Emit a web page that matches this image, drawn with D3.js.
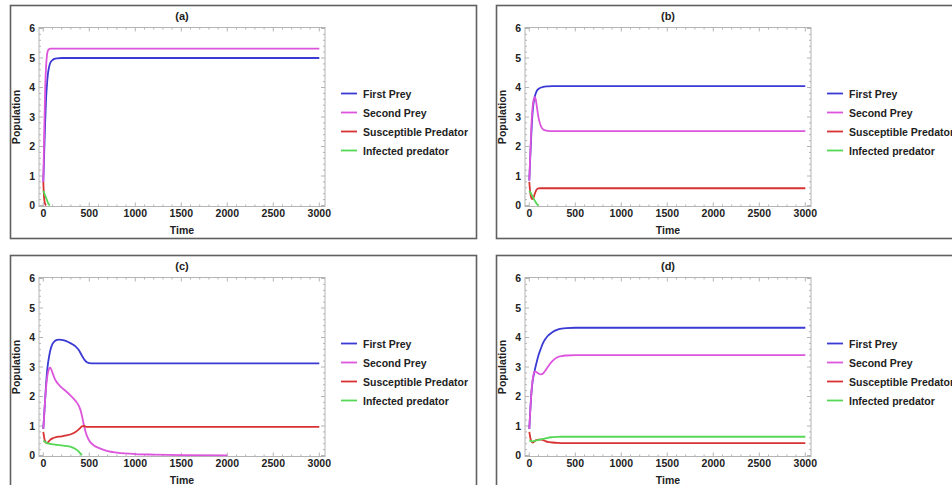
<!DOCTYPE html>
<html lang="en">
<head>
<meta charset="UTF-8">
<script src="https://d3js.org/d3.v7.min.js"></script>
<title>Population panels</title>
<style>
body { margin: 0; background: #fff; }
text { font-family: "Liberation Sans", Arial, sans-serif; font-weight: bold; fill: #222; }
.tick-label { font-size: 10.5px; }
.axis-title { font-size: 10.5px; }
.panel-title { font-size: 11px; }
.legend text { font-size: 10.5px; }
</style>
</head>
<body>
<script>

// series names and colours
var seriesNames = ["First Prey", "Second Prey", "Susceptible Predator", "Infected predator"];
var seriesColors = ["#3a3ad4", "#dc55dc", "#d83232", "#55d855"];
var panelTitles = ["(a)", "(b)", "(c)", "(d)"];
var xTicks = [0, 500, 1000, 1500, 2000, 2500, 3000];
var yTicks = [0, 1, 2, 3, 4, 5, 6];

// panel (a)
var tA      = [0, 5, 10, 20, 30, 40, 50, 60, 70, 80, 100, 120, 150, 200, 300, 500, 1000, 2000, 3000];
var aFirst  = [0.8, 1.3, 1.8, 2.8, 3.6, 4.1, 4.45, 4.65, 4.78, 4.86, 4.93, 4.97, 4.99, 5.0, 5.0, 5.0, 5.0, 5.0, 5.0];
var aSecond = [0.8, 1.6, 2.5, 3.9, 4.7, 5.1, 5.25, 5.29, 5.31, 5.32, 5.32, 5.32, 5.32, 5.32, 5.32, 5.32, 5.32, 5.32, 5.32];
var aSusc   = [0.8, 0.45, 0.22, 0.05, 0.0, null, null, null, null, null, null, null, null, null, null, null, null, null, null];
var aInf    = [0.5, 0.46, 0.42, 0.34, 0.26, 0.18, 0.1, 0.04, 0.0, null, null, null, null, null, null, null, null, null, null];

// panel (b)
var tB      = [0, 10, 20, 30, 40, 50, 60, 70, 80, 100, 120, 150, 200, 250, 300, 500, 1000, 2000, 3000];
var bFirst  = [0.85, 1.6, 2.3, 2.9, 3.3, 3.55, 3.7, 3.8, 3.88, 3.95, 3.99, 4.02, 4.04, 4.05, 4.05, 4.05, 4.05, 4.05, 4.05];
var bSecond = [0.85, 1.7, 2.5, 3.1, 3.45, 3.62, 3.67, 3.6, 3.4, 2.98, 2.74, 2.58, 2.53, 2.52, 2.52, 2.52, 2.52, 2.52, 2.52];
var bSusc   = [0.8, 0.45, 0.28, 0.22, 0.24, 0.3, 0.4, 0.48, 0.54, 0.58, 0.585, 0.585, 0.585, 0.585, 0.585, 0.585, 0.585, 0.585, 0.585];
var bInf    = [0.5, 0.45, 0.4, 0.34, 0.28, 0.22, 0.16, 0.11, 0.06, 0.0, null, null, null, null, null, null, null, null, null];

// panel (c)
var tC      = [0, 10, 20, 30, 40, 50, 60, 75, 100, 125, 150, 175, 200, 250, 300, 350, 380, 400, 420, 440, 460, 480, 500, 550, 600, 700, 800, 1000, 1200, 1500, 2000, 2500, 3000];
var cFirst  = [0.9, 1.4, 1.9, 2.4, 2.8, 3.1, 3.3, 3.55, 3.78, 3.88, 3.92, 3.93, 3.92, 3.88, 3.8, 3.7, 3.6, 3.5, 3.38, 3.28, 3.2, 3.15, 3.13, 3.12, 3.12, 3.12, 3.12, 3.12, 3.12, 3.12, 3.12, 3.12, 3.12];
var cSecond = [0.9, 1.4, 1.9, 2.3, 2.6, 2.8, 2.92, 2.98, 2.8, 2.6, 2.47, 2.38, 2.3, 2.17, 2.02, 1.85, 1.72, 1.58, 1.35, 1.05, 0.8, 0.62, 0.5, 0.34, 0.26, 0.15, 0.1, 0.05, 0.03, 0.012, 0.003, null, null];
var cSusc   = [0.8, 0.6, 0.48, 0.43, 0.42, 0.44, 0.48, 0.53, 0.58, 0.61, 0.63, 0.64, 0.65, 0.68, 0.72, 0.8, 0.87, 0.93, 0.99, 1.0, 0.98, 0.97, 0.97, 0.97, 0.97, 0.97, 0.97, 0.97, 0.97, 0.97, 0.97, 0.97, 0.97];
var cInf    = [0.5, 0.48, 0.46, 0.44, 0.42, 0.41, 0.4, 0.39, 0.38, 0.37, 0.36, 0.35, 0.34, 0.32, 0.29, 0.22, 0.15, 0.08, 0.01, null, null, null, null, null, null, null, null, null, null, null, null, null, null];

// panel (d)
var tD      = [0, 10, 20, 30, 40, 50, 60, 75, 100, 125, 150, 175, 200, 250, 300, 350, 400, 500, 1000, 2000, 3000];
var dFirst  = [0.9, 1.5, 2.0, 2.35, 2.6, 2.75, 2.9, 3.1, 3.4, 3.62, 3.82, 3.95, 4.05, 4.18, 4.26, 4.3, 4.32, 4.33, 4.33, 4.33, 4.33];
var dSecond = [0.9, 1.5, 2.0, 2.4, 2.65, 2.8, 2.85, 2.83, 2.78, 2.75, 2.78, 2.88, 3.0, 3.2, 3.32, 3.37, 3.39, 3.4, 3.4, 3.4, 3.4];
var dSusc   = [0.8, 0.62, 0.5, 0.45, 0.44, 0.46, 0.49, 0.52, 0.54, 0.54, 0.52, 0.49, 0.46, 0.44, 0.43, 0.42, 0.42, 0.42, 0.42, 0.42, 0.42];
var dInf    = [0.5, 0.5, 0.49, 0.48, 0.48, 0.49, 0.5, 0.51, 0.53, 0.55, 0.56, 0.58, 0.6, 0.62, 0.63, 0.635, 0.635, 0.635, 0.635, 0.635, 0.635];

var panels = [
  { title: panelTitles[0], ox: 0,   oy: 0,   t: tA, ys: [aFirst, aSecond, aSusc, aInf] },
  { title: panelTitles[1], ox: 486, oy: 0,   t: tB, ys: [bFirst, bSecond, bSusc, bInf] },
  { title: panelTitles[2], ox: 0,   oy: 250, t: tC, ys: [cFirst, cSecond, cSusc, cInf] },
  { title: panelTitles[3], ox: 486, oy: 250, t: tD, ys: [dFirst, dSecond, dSusc, dInf] }
];

var width = 952, height = 485;

var svg = d3.select("body").append("svg")
    .attr("width", width)
    .attr("height", height);

svg.append("rect").attr("width", width).attr("height", height).attr("fill", "#fff");

// frame of the plot area (local coords)
var fx0 = 39, fx1 = 325, fy0 = 27.5, fy1 = 206.5;

var x = d3.scaleLinear().domain([0, 3000]).range([43.3, 319.3]);
var y = d3.scaleLinear().domain([0, 6]).range([205.5, 28.5]);

svg.append("clipPath").attr("id", "plotclip")
  .append("rect")
    .attr("x", fx0).attr("y", fy0)
    .attr("width", fx1 - fx0).attr("height", fy1 - fy0);

panels.forEach(function(p) {
  var g = svg.append("g").attr("transform", "translate(" + p.ox + "," + p.oy + ")");

  // outer box
  g.append("rect")
      .attr("x", 10.5).attr("y", 5.5)
      .attr("width", 466).attr("height", 233)
      .attr("fill", "none")
      .attr("stroke", "#606060")
      .attr("stroke-width", 1.6);

  // frame
  g.append("rect")
      .attr("x", fx0).attr("y", fy0)
      .attr("width", fx1 - fx0).attr("height", fy1 - fy0)
      .attr("fill", "none")
      .attr("stroke", "#b4b4b4")
      .attr("stroke-width", 1);

  // ticks, inward on all sides
  var ticks = g.append("g").attr("stroke", "#b4b4b4").attr("stroke-width", 1);
  d3.range(0, 3001, 100).forEach(function(v) {
    var len = v % 500 === 0 ? 4 : 2;
    ticks.append("line").attr("x1", x(v)).attr("x2", x(v)).attr("y1", fy1).attr("y2", fy1 - len);
    ticks.append("line").attr("x1", x(v)).attr("x2", x(v)).attr("y1", fy0).attr("y2", fy0 + len);
  });
  d3.range(0, 31).forEach(function(i) {
    var v = i * 0.2, len = i % 5 === 0 ? 4 : 2;
    ticks.append("line").attr("x1", fx0).attr("x2", fx0 + len).attr("y1", y(v)).attr("y2", y(v));
    ticks.append("line").attr("x1", fx1).attr("x2", fx1 - len).attr("y1", y(v)).attr("y2", y(v));
  });

  // tick labels
  g.selectAll(".xl").data(xTicks).enter().append("text")
      .attr("class", "tick-label")
      .attr("x", function(d) { return x(d); })
      .attr("y", 217)
      .attr("text-anchor", "middle")
      .text(function(d) { return d; });

  g.selectAll(".yl").data(yTicks).enter().append("text")
      .attr("class", "tick-label")
      .attr("x", 35)
      .attr("y", function(d) { return y(d) + 3.5; })
      .attr("text-anchor", "end")
      .text(function(d) { return d; });

  g.append("text").attr("class", "axis-title")
      .attr("x", 182).attr("y", 234)
      .attr("text-anchor", "middle")
      .text("Time");

  g.append("text").attr("class", "axis-title")
      .attr("transform", "translate(20,117) rotate(-90)")
      .attr("text-anchor", "middle")
      .text("Population");

  g.append("text").attr("class", "panel-title")
      .attr("x", 182).attr("y", 20)
      .attr("text-anchor", "middle")
      .text(p.title);

  // curves
  var plot = g.append("g").attr("clip-path", "url(#plotclip)");
  p.ys.forEach(function(vals, si) {
    var pts = p.t.map(function(t, i) { return [t, vals[i]]; });
    var line = d3.line()
        .defined(function(d) { return d[1] !== null; })
        .x(function(d) { return x(d[0]); })
        .y(function(d) { return y(d[1]); })
        .curve(d3.curveMonotoneX);
    plot.append("path")
        .datum(pts)
        .attr("d", line)
        .attr("fill", "none")
        .attr("stroke", seriesColors[si])
        .attr("stroke-width", 1.8)
        .attr("stroke-linejoin", "round");
  });

  // legend (the right panels run past the page edge, as in the source)
  var leg = g.append("g").attr("class", "legend");
  seriesNames.forEach(function(name, i) {
    var ly = 93.5 + i * 19;
    leg.append("line")
        .attr("x1", 341).attr("x2", 357)
        .attr("y1", ly).attr("y2", ly)
        .attr("stroke", seriesColors[i])
        .attr("stroke-width", 1.8);
    leg.append("text")
        .attr("x", 363).attr("y", ly + 4)
        .text(name);
  });
});

</script>
</body>
</html>
